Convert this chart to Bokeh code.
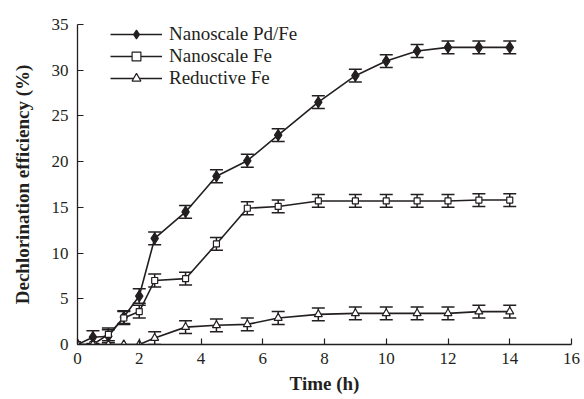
from bokeh.plotting import figure
from bokeh.models import ColumnDataSource, Whisker, Legend, LegendItem, FixedTicker, Range1d
from bokeh.embed import file_html
from bokeh.resources import INLINE

time = [0, 0.5, 1, 1.5, 2, 2.5, 3.5, 4.5, 5.5, 6.5, 7.8, 9, 10, 11, 12, 13, 14]
pdfe = [0, 0.8, 0.9, 3.0, 5.3, 11.6, 14.5, 18.4, 20.1, 22.9, 26.5, 29.4, 31.0, 32.1, 32.5, 32.5, 32.5]
nfe = [0, 0, 1.1, 2.9, 3.6, 7.0, 7.2, 11.0, 14.9, 15.1, 15.7, 15.7, 15.7, 15.7, 15.7, 15.8, 15.8]
rfe = [0, 0, 0, 0, 0, 0.7, 1.9, 2.1, 2.2, 2.9, 3.3, 3.4, 3.4, 3.4, 3.4, 3.6, 3.6]
err_pdfe = [0, 0.7, 0.7, 0.7, 0.8, 0.7, 0.7, 0.7, 0.7, 0.7, 0.7, 0.7, 0.7, 0.7, 0.7, 0.7, 0.7]
err_nfe = [0, 0, 0.7, 0.7, 0.7, 0.7, 0.7, 0.7, 0.7, 0.7, 0.7, 0.7, 0.7, 0.7, 0.7, 0.7, 0.7]
err_rfe = [0, 0, 0, 0, 0, 0.7, 0.7, 0.7, 0.7, 0.7, 0.7, 0.7, 0.7, 0.7, 0.7, 0.7, 0.7]
names = ["Nanoscale Pd/Fe", "Nanoscale Fe", "Reductive Fe"]
x_ticks = [0, 2, 4, 6, 8, 10, 12, 14, 16]
y_ticks = [0, 5, 10, 15, 20, 25, 30, 35]

INK = "#231f20"
FONT = "Liberation Serif"

p = figure(width=584, height=398, output_backend="svg", toolbar_location=None,
           x_range=Range1d(0, 16), y_range=Range1d(0, 35),
           min_border_left=77, min_border_right=13, min_border_top=24, min_border_bottom=54)
p.outline_line_color = None
p.grid.visible = False
p.background_fill_color = "white"

for ax in (p.xaxis[0], p.yaxis[0]):
    ax.major_tick_in = 6
    ax.major_tick_out = 0
    ax.minor_tick_in = 0
    ax.minor_tick_out = 0
    ax.axis_line_color = INK
    ax.axis_line_width = 1.3
    ax.major_tick_line_color = INK
    ax.major_tick_line_width = 1.2
    ax.major_label_text_font = FONT
    ax.major_label_text_font_size = "17px"
    ax.major_label_text_color = INK
    ax.axis_label_text_font = FONT
    ax.axis_label_text_font_size = "19px"
    ax.axis_label_text_font_style = "bold"
    ax.axis_label_text_color = INK

p.xaxis.ticker = FixedTicker(ticks=x_ticks)
p.yaxis.ticker = FixedTicker(ticks=y_ticks)
p.xaxis.axis_label = "Time (h)"
p.yaxis.axis_label = "Dechlorination efficiency (%)"
p.xaxis.major_label_standoff = 8
p.yaxis.major_label_standoff = 9
p.xaxis.axis_label_standoff = 6
p.yaxis.axis_label_standoff = 16

items = []
series = [(pdfe, err_pdfe, "diamond", INK, 11), (nfe, err_nfe, "square", "white", 6), (rfe, err_rfe, "triangle", "white", 8)]
for (vals, err, marker, fill, size), name in zip(series, names):
    upper = [v + e for v, e in zip(vals, err)]
    lower = [v - e for v, e in zip(vals, err)]
    keep = [i for i, e in enumerate(err) if e > 0]
    src_err = ColumnDataSource(dict(x=[time[i] for i in keep], upper=[upper[i] for i in keep], lower=[lower[i] for i in keep]))
    w = Whisker(source=src_err, base="x", upper="upper", lower="lower", line_color=INK, line_width=1.5)
    w.upper_head.size = 13
    w.lower_head.size = 13
    w.upper_head.line_color = INK
    w.lower_head.line_color = INK
    w.upper_head.line_width = 1.5
    w.lower_head.line_width = 1.5
    p.add_layout(w)
    src = ColumnDataSource(dict(x=time, y=vals))
    l = p.line("x", "y", source=src, line_color=INK, line_width=1.6)
    m = p.scatter("x", "y", source=src, marker=marker, size=size, fill_color=fill, line_color=INK, line_width=1.2)
    items.append(LegendItem(label=name, renderers=[l, m]))

legend = Legend(items=items, location=(33, 255), glyph_width=52, glyph_height=22, label_height=22,
                spacing=0, padding=0, margin=0, label_standoff=7,
                label_text_font=FONT, label_text_font_size="19px", label_text_color=INK,
                background_fill_alpha=0, border_line_color=None)
p.add_layout(legend)

open("out.html", "w").write(file_html(p, INLINE))
